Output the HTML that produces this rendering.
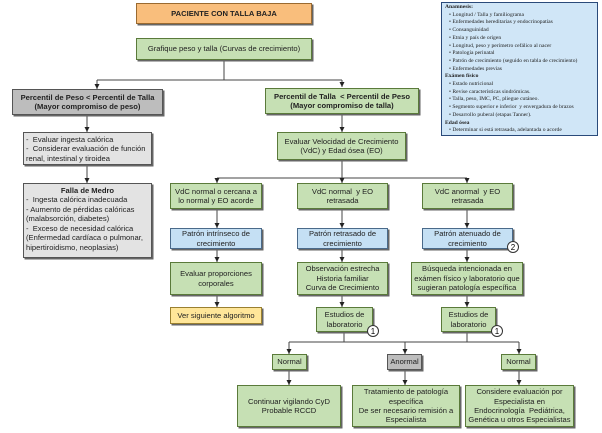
<!DOCTYPE html>
<html><head><meta charset="utf-8"><style>
body{margin:0;width:602px;height:433px;background:#fff;position:relative;overflow:hidden;font-family:"Liberation Sans",sans-serif;}
.b{position:absolute;box-sizing:border-box;border:1px solid #555;display:flex;align-items:center;justify-content:center;text-align:center;font-size:7.6px;line-height:1.25;color:#222;box-shadow:1.5px 1.5px 0 #666;}
.g{background:#c6e0b4;border-color:#5a7a3a;}
.gr{background:#e3e3e3;}
.dg{background:#bdbdbd;}
.bl{background:#c5e0f4;border-color:#4a6a8a;}
.y{background:#ffe699;border-color:#9a8030;}
.o{background:#f9be7c;border-color:#9a6a30;}
.l{text-align:left;justify-content:flex-start;align-items:flex-start;padding:2px 2px;}
.c{position:absolute;width:12px;height:12px;border:1px solid #333;border-radius:50%;background:#fff;font-size:8px;text-align:center;line-height:12px;box-sizing:border-box;}
svg{position:absolute;left:0;top:0;}
.info{position:absolute;left:441px;top:2px;width:157px;height:134px;background:#d0e6f7;border:1px solid #2a4a7a;box-sizing:border-box;font-family:"Liberation Serif",serif;font-size:5.6px;line-height:7.7px;padding:1px 3px;color:#222;white-space:nowrap;}
.info b{display:block}
.info div{padding-left:4px}
</style></head><body>
<svg width="602" height="433" stroke="#444" stroke-width="1" fill="none">
<line x1="224" y1="60" x2="224" y2="80"/>
<line x1="97" y1="80" x2="342" y2="80"/>
<line x1="97" y1="80" x2="97" y2="89"/>
<line x1="342" y1="80" x2="342" y2="87"/>
<line x1="87" y1="115" x2="87" y2="132"/>
<line x1="87" y1="165" x2="87" y2="183"/>
<line x1="342" y1="114" x2="342" y2="132"/>
<line x1="342" y1="160" x2="342" y2="178"/>
<line x1="217" y1="178" x2="467" y2="178"/>
<line x1="217" y1="178" x2="217" y2="183"/>
<line x1="342" y1="178" x2="342" y2="183"/>
<line x1="467" y1="178" x2="467" y2="183"/>
<line x1="217" y1="209" x2="217" y2="228"/>
<line x1="342" y1="209" x2="342" y2="228"/>
<line x1="467" y1="209" x2="467" y2="228"/>
<line x1="217" y1="249" x2="217" y2="262"/>
<line x1="342" y1="249" x2="342" y2="262"/>
<line x1="467" y1="249" x2="467" y2="262"/>
<line x1="217" y1="295" x2="217" y2="307"/>
<line x1="342" y1="295" x2="342" y2="307"/>
<line x1="467" y1="295" x2="467" y2="307"/>
<line x1="344" y1="332" x2="344" y2="342"/>
<line x1="467" y1="332" x2="467" y2="342"/>
<line x1="289" y1="342" x2="519" y2="342"/>
<line x1="289" y1="342" x2="289" y2="354"/>
<line x1="405" y1="342" x2="405" y2="354"/>
<line x1="519" y1="342" x2="519" y2="354"/>
<line x1="289" y1="370" x2="289" y2="385"/>
<line x1="405" y1="370" x2="405" y2="385"/>
<line x1="519" y1="370" x2="519" y2="385"/>
<g fill="#222" stroke="none">
<path d="M94.5,84 h5 l-2.5,5z"/><path d="M339.5,82 h5 l-2.5,5z"/>
<path d="M84.5,127 h5 l-2.5,5z"/><path d="M84.5,178 h5 l-2.5,5z"/>
<path d="M339.5,127 h5 l-2.5,5z"/>
<path d="M214.5,178 h5 l-2.5,5z"/><path d="M339.5,178 h5 l-2.5,5z"/><path d="M464.5,178 h5 l-2.5,5z"/>
<path d="M214.5,223 h5 l-2.5,5z"/><path d="M339.5,223 h5 l-2.5,5z"/><path d="M464.5,223 h5 l-2.5,5z"/>
<path d="M214.5,257 h5 l-2.5,5z"/><path d="M339.5,257 h5 l-2.5,5z"/><path d="M464.5,257 h5 l-2.5,5z"/>
<path d="M214.5,302 h5 l-2.5,5z"/><path d="M339.5,302 h5 l-2.5,5z"/><path d="M464.5,302 h5 l-2.5,5z"/>
<path d="M286.5,349 h5 l-2.5,5z"/><path d="M402.5,349 h5 l-2.5,5z"/><path d="M516.5,349 h5 l-2.5,5z"/>
<path d="M286.5,380 h5 l-2.5,5z"/><path d="M402.5,380 h5 l-2.5,5z"/><path d="M516.5,380 h5 l-2.5,5z"/>
</g>
</svg>
<div class="b o" style="left:136px;top:3px;width:176px;height:21px;font-weight:bold;">PACIENTE CON TALLA BAJA</div>
<div class="b g" style="left:136px;top:38px;width:176px;height:22px;">Grafique peso y talla (Curvas de crecimiento)</div>
<div class="b dg" style="left:12px;top:89px;width:151px;height:26px;font-weight:bold;">Percentil de Peso &lt; Percentil de Talla<br>(Mayor compromiso de peso)</div>
<div class="b g" style="left:265px;top:88px;width:154px;height:26px;font-weight:bold;">Percentil de Talla &nbsp;&lt; Percentil de Peso<br>(Mayor compromiso de talla)</div>
<div class="b gr l" style="left:23px;top:132px;width:129px;height:33px;">- &nbsp;Evaluar ingesta calórica<br>- &nbsp;Considerar evaluación de función renal, intestinal y tiroidea</div>
<div class="b gr l" style="left:23px;top:183px;width:129px;height:75px;display:block;"><div style="text-align:center;font-weight:bold">Falla de Medro</div>- &nbsp;Ingesta calórica inadecuada<br>- Aumento de pérdidas calóricas (malabsorción, diabetes)<br>- &nbsp;Exceso de necesidad calórica (Enfermedad cardíaca o pulmonar, hipertiroidismo, neoplasias)</div>
<div class="b g" style="left:277px;top:132px;width:129px;height:28px;">Evaluar Velocidad de Crecimiento<br>(VdC) y Edad ósea (EO)</div>
<div class="b g" style="left:170px;top:183px;width:92px;height:26px;">VdC normal o cercana a<br>lo normal y EO acorde</div>
<div class="b g" style="left:297px;top:183px;width:91px;height:26px;">VdC normal &nbsp;y EO<br>retrasada</div>
<div class="b g" style="left:422px;top:183px;width:91px;height:26px;">VdC anormal &nbsp;y EO<br>retrasada</div>
<div class="b bl" style="left:170px;top:228px;width:92px;height:21px;">Patrón intrínseco de<br>crecimiento</div>
<div class="b bl" style="left:297px;top:228px;width:91px;height:21px;">Patrón retrasado de<br>crecimiento</div>
<div class="b bl" style="left:422px;top:228px;width:91px;height:21px;">Patrón atenuado de<br>crecimiento</div>
<div class="b g" style="left:170px;top:262px;width:92px;height:33px;">Evaluar proporciones<br>corporales</div>
<div class="b g" style="left:297px;top:262px;width:91px;height:33px;">Observación estrecha<br>Historia familiar<br>Curva de Crecimiento</div>
<div class="b g" style="left:411px;top:262px;width:112px;height:33px;">Búsqueda intencionada en<br>exámen físico y laboratorio que<br>sugieran patología específica</div>
<div class="b y" style="left:170px;top:307px;width:92px;height:17px;">Ver siguiente algoritmo</div>
<div class="b g" style="left:316px;top:307px;width:57px;height:25px;">Estudios de<br>laboratorio</div>
<div class="b g" style="left:441px;top:307px;width:55px;height:25px;">Estudios de<br>laboratorio</div>
<div class="c" style="left:367px;top:325px;">1</div>
<div class="c" style="left:491px;top:325px;">1</div>
<div class="c" style="left:507px;top:241px;">2</div>
<div class="b g" style="left:272px;top:354px;width:35px;height:16px;">Normal</div>
<div class="b dg" style="left:387px;top:354px;width:35px;height:16px;">Anormal</div>
<div class="b g" style="left:501px;top:354px;width:35px;height:16px;">Normal</div>
<div class="b g" style="left:237px;top:385px;width:104px;height:42px;">Continuar vigilando CyD<br>Probable RCCD</div>
<div class="b g" style="left:352px;top:385px;width:108px;height:42px;">Tratamiento de patología<br>específica<br>De ser necesario remisión a<br>Especialista</div>
<div class="b g" style="left:465px;top:385px;width:109px;height:42px;">Considere evaluación por<br>Especialista en<br>Endocrinología &nbsp;Pediátrica,<br>Genética u otros Especialistas</div>
<div class="info">
<b>Anamnesis:</b>
<div>• Longitud / Talla y familiograma</div>
<div>• Enfermedades hereditarias y endocrinopatías</div>
<div>• Consanguinidad</div>
<div>• Etnia y país de origen</div>
<div>• Longitud, peso y perímetro cefálico al nacer</div>
<div>• Patología perinatal</div>
<div>• Patrón de crecimiento (seguido en tabla de crecimiento)</div>
<div>• Enfermedades previas</div>
<b>Exámen físico</b>
<div>• Estado nutricional</div>
<div>• Revise características sindrómicas.</div>
<div>• Talla, peso, IMC, PC, pliegue cutáneo.</div>
<div>• Segmento superior e inferior &nbsp;y envergadura de brazos</div>
<div>• Desarrollo puberal (etapas Tanner).</div>
<b>Edad ósea</b>
<div>• Determinar si está retrasada, adelantada o acorde</div>
</div>
</body></html>
